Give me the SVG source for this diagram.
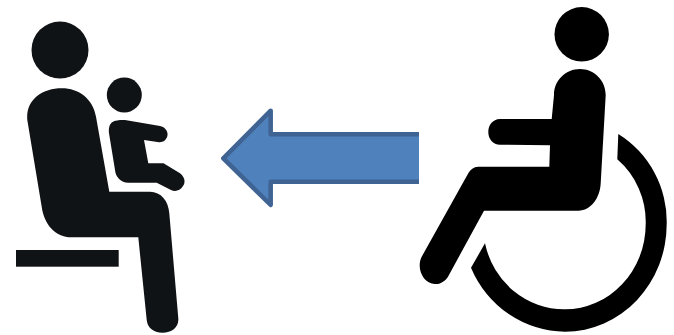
<svg xmlns="http://www.w3.org/2000/svg" width="674" height="335" viewBox="0 0 674 335">
<style>
.p{fill:#101316}
.w{fill:#000}
.a{fill:#4f81bd;stroke:#3f6392;stroke-width:4.5;stroke-linejoin:round}
</style>
<rect width="674" height="335" fill="#fff"/>
<g id="parent-child">
<circle class="p" cx="60" cy="50" r="28.5"/>
<circle class="p" cx="124.3" cy="95" r="17.5"/>
<path class="p" d="M27.3 120C25.5 100 42 88.3 61.7 88.3C79 88.3 93 99 96 116.7L109.3 191.7H150C161 191.7 168.5 201 169.3 213.3L178.3 318.3C179 327 172 332.8 162.5 332.8C153 332.8 147.3 327 146.700 320L138.300 237.300H71.700C55 237.300 44 224 41.700 206.700Z"/>
<path class="p" d="M109 133.300C107.800 120 116 120 125 120L160 126C167 127.300 168 134 167.500 135C167 140 163 142.500 159 142.200L144 140L148.300 163.300H163.500L180 173.300C186 178 185 184 183 186C180 191 175 191.800 171 190L156.700 182.700H128.300C121 182.700 115.500 177 115 170Z"/>
<rect class="p" x="16" y="250" width="102.700" height="16.700"/>
</g>
<g id="wheelchair">
<circle class="w" cx="581.700" cy="34.300" r="27.200"/>
<path class="w" d="M580 69C566 69 554 80 554 95L551.700 119H500C492.500 119.300 488.300 125 488.300 132C488.300 139 493 144.700 500 144.700L550 145.300L549.300 166.700H478.300C473.500 167 470.500 169.500 468.300 173.300L421.700 256.700C416 268 423 283.500 435 284C441 284.500 446 280 448 276.700L484 210.700H578.300C591 210.700 600 198 600.700 183.300L605.700 95C605.500 80 594 69 580 69Z"/>
<path class="w" d="M618.300 134A102 103 0 0 1 666.700 224A101.700 107.700 0 0 1 565 331.700A103 106 0 0 1 471 267.700L485 243.300A81 84 0 0 0 565 309.300A80.700 85.300 0 0 0 645.700 224A81 82 0 0 0 617.300 159.300Z"/>
</g>
<g id="connectors">
<path class="a" d="M419 134.300H270.700V110.700L223.300 158.300L270.700 205V181.700H419"/>
</g>
</svg>
